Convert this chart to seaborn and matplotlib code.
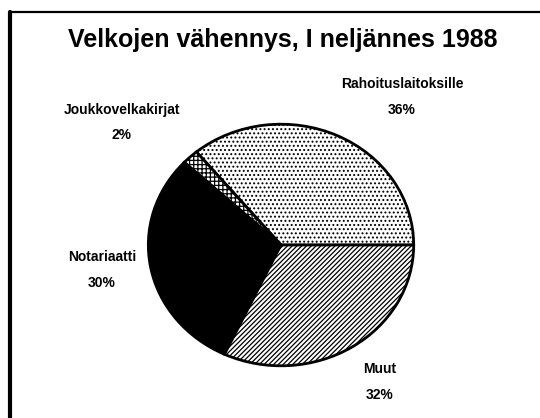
import matplotlib
matplotlib.use("Agg")
import matplotlib.pyplot as plt
import seaborn as sns

sns.set_theme(style="white")
plt.rcParams['font.family'] = ['Liberation Sans', 'DejaVu Sans']
plt.rcParams['text.color'] = 'black'
plt.rcParams['hatch.linewidth'] = 0.9

title = "Velkojen vähennys, I neljännes 1988"
categories = ["Rahoituslaitoksille", "Joukkovelkakirjat", "Notariaatti", "Muut"]
values = [36, 2, 30, 32]
facecolors = ["white", "white", "black", "white"]
hatches = ["....", "++++", "", "///////"]

fig = plt.figure(figsize=(5.4, 4.18), dpi=100)
fig.patch.set_facecolor("white")

# frame lines (top and left)
fig.add_artist(plt.Line2D([10 / 540, 1.0], [1 - 12 / 418, 1 - 12 / 418],
                          transform=fig.transFigure, color="black", lw=1.6))
fig.add_artist(plt.Line2D([10 / 540, 10 / 540], [0.0, 1 - 12 / 418],
                          transform=fig.transFigure, color="black", lw=3.0))

ax = fig.add_axes([147 / 540, 51 / 418, 268 / 540, 244 / 418])
wedges, _ = ax.pie(values, startangle=0, counterclock=True, colors=facecolors,
                   wedgeprops=dict(edgecolor="black", linewidth=2.0))
for w, h in zip(wedges, hatches):
    w.set_hatch(h)
ax.set_aspect("auto")
ax.set_xlim(-1.01, 1.01)
ax.set_ylim(-1.01, 1.01)
ax.axis("off")

fig.text(283 / 540, 1 - 40 / 418, title, ha="center", va="center",
         fontsize=18, fontweight="bold", color="black")

label_pos = {
    "Rahoituslaitoksille": (402, 84, 110),
    "Joukkovelkakirjat": (122, 110, 135),
    "Notariaatti": (102, 257, 283),
    "Muut": (380, 369, 395),
}
for cat, v in zip(categories, values):
    x, y1, y2 = label_pos[cat]
    fig.text(x / 540, 1 - y1 / 418, cat, ha="center", va="center",
             fontsize=10, fontweight="bold", color="black")
    fig.text(x / 540, 1 - y2 / 418, f"{v}%", ha="center", va="center",
             fontsize=10, fontweight="bold", color="black")

fig.savefig("out.png", dpi=100, facecolor="white")
